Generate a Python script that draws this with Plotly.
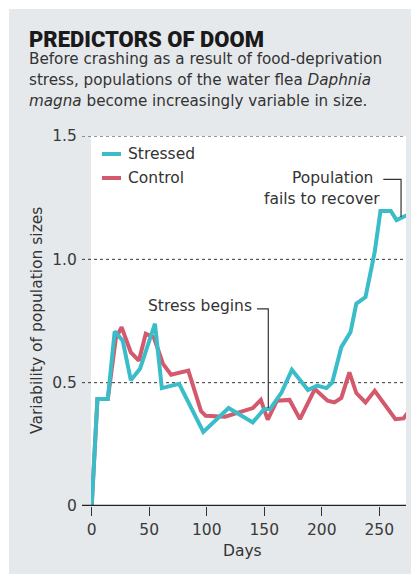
import plotly.graph_objects as go

# ---------------- data ----------------
stressed_days = [0, 5, 14, 20, 27, 34, 42, 55, 61, 76, 97, 119, 140, 150, 155, 165,
                 174, 188, 196, 204, 209, 217, 225, 230, 238, 246, 251, 260, 265, 274]
stressed_vals = [0, 0.434, 0.434, 0.708, 0.67, 0.51, 0.556, 0.739, 0.478, 0.495, 0.30,
                 0.397, 0.339, 0.393, 0.393, 0.46, 0.552, 0.47, 0.488, 0.478, 0.50,
                 0.644, 0.705, 0.82, 0.847, 1.03, 1.196, 1.196, 1.159, 1.179]

control_days = [0, 5, 14, 21, 26, 34, 41, 47, 54, 62, 69, 84, 95, 99, 116, 140, 147,
                153, 161, 172, 181, 194, 205, 211, 217, 224, 230, 238, 246, 264, 271, 275]
control_vals = [0, 0.434, 0.434, 0.68, 0.725, 0.623, 0.589, 0.698, 0.684, 0.576, 0.532,
                0.549, 0.385, 0.366, 0.362, 0.397, 0.43, 0.35, 0.427, 0.43, 0.352,
                0.474, 0.427, 0.42, 0.438, 0.542, 0.458, 0.42, 0.467, 0.352, 0.355, 0.38]

x_ticks = [0, 50, 100, 150, 200, 250]
y_ticks = [0, 0.5, 1.0, 1.5]
y_tick_labels = ["0", "0.5", "1.0", "1.5"]

series_names = ["Stressed", "Control"]
TEAL = "#3bbdc9"
RED = "#d4596c"
PANEL = "#e6e9ec"
DARK = "#333333"
FONT = "'DejaVu Sans', sans-serif"
TITLE_FONT = "Roboto, sans-serif"
FS = 15.5

OFF = 8  # page body margin
W, H = 411, 567
L, R, T, B = 83, 13, 128, 69
PW, PH = W - L - R, H - T - B


def px(X):  # page pixel -> paper x
    return (X - OFF - L) / PW


def py(Y):  # page pixel -> paper y
    return (H - B - (Y - OFF)) / PH


fig = go.Figure()
fig.add_trace(go.Scatter(x=control_days, y=control_vals, mode="lines", name=series_names[1],
                         line=dict(color=RED, width=4), showlegend=False))
fig.add_trace(go.Scatter(x=stressed_days, y=stressed_vals, mode="lines", name=series_names[0],
                         line=dict(color=TEAL, width=4), showlegend=False))

shapes = [
    dict(type="rect", xref="paper", yref="paper", x0=px(9), x1=px(425), y0=py(574), y1=py(9),
         fillcolor=PANEL, line=dict(width=0), layer="below"),
    dict(type="rect", xref="paper", yref="paper", x0=0, x1=1, y0=0, y1=1,
         fillcolor="white", line=dict(width=0), layer="below"),
]
for v in y_ticks[1:]:
    shapes.append(dict(type="line", xref="paper", yref="y", x0=px(82), x1=1, y0=v, y1=v,
                       line=dict(color=DARK, width=1, dash="dot"), layer="below"))
shapes.append(dict(type="line", xref="paper", yref="y", x0=px(82), x1=1, y0=0, y1=0,
                   line=dict(color="#222222", width=2.5), layer="above"))
shapes.append(dict(type="line", xref="paper", yref="paper", x0=px(102), x1=px(121),
                   y0=py(154), y1=py(154), line=dict(color=TEAL, width=4)))
shapes.append(dict(type="line", xref="paper", yref="paper", x0=px(102), x1=px(121),
                   y0=py(178), y1=py(178), line=dict(color=RED, width=4)))
shapes.append(dict(type="path", xref="x", yref="y",
                   path="M 143.7,0.799 L 153.5,0.799 L 153.5,0.397",
                   line=dict(color=DARK, width=1.2)))
shapes.append(dict(type="path", xref="x", yref="y",
                   path="M 253.5,1.3245 L 268.9,1.3245 L 268.9,1.172",
                   line=dict(color=DARK, width=1.2)))

ann = []


def text(x, y, s, size, xanchor="left", yanchor="middle", color=DARK, family=FONT, **kw):
    ann.append(dict(x=x, y=y, xref="paper", yref="paper", text=s, showarrow=False,
                    xanchor=xanchor, yanchor=yanchor,
                    font=dict(size=size, color=color, family=family), **kw))


ann.append(dict(x=px(27), y=py(39), xref="paper", yref="paper", text="PREDICTORS OF DOOM",
                showarrow=False, xanchor="left", yanchor="middle",
                font=dict(size=22, color="#1a1a1a", family=TITLE_FONT, weight=900)))
text(px(27), py(58.5), "Before crashing as a result of food-deprivation", 15.2)
text(px(27), py(80), "stress, populations of the water flea <i>Daphnia</i>", 15.2)
text(px(27), py(101.5), "<i>magna</i> become increasingly variable in size.", 15.2)

text(px(126), py(154), "Stressed", FS)
text(px(126), py(178), "Control", FS)

text(px(254), py(306), "Stress begins", FS, xanchor="right")
text(px(375), py(178), "Population", FS, xanchor="right")
text(px(382), py(199), "fails to recover", FS, xanchor="right")

text(px(242.5), py(551), "Days", FS, xanchor="center")
text(px(37), py(321), "Variability of population sizes", FS, xanchor="center", textangle=-90)

fig.update_layout(
    width=W, height=H,
    margin=dict(l=L, r=R, t=T, b=B, pad=0),
    paper_bgcolor="white", plot_bgcolor="white",
    showlegend=False,
    shapes=shapes, annotations=ann,
    font=dict(family=FONT, size=FS, color="#3a3a3a"),
    xaxis=dict(range=[-0.6, 273.2], tickvals=x_ticks, ticks="outside", ticklen=9,
               tickwidth=1.3, tickcolor=DARK, showgrid=False, zeroline=False, showline=False,
               tickfont=dict(size=FS, color="#3a3a3a")),
    yaxis=dict(range=[0, 1.5], tickvals=y_ticks, ticktext=y_tick_labels, ticks="outside",
               ticklen=10, tickcolor="rgba(0,0,0,0)", showgrid=False, zeroline=False,
               showline=False, tickfont=dict(size=FS, color="#3a3a3a")),
)

fig.write_html("out.html")
